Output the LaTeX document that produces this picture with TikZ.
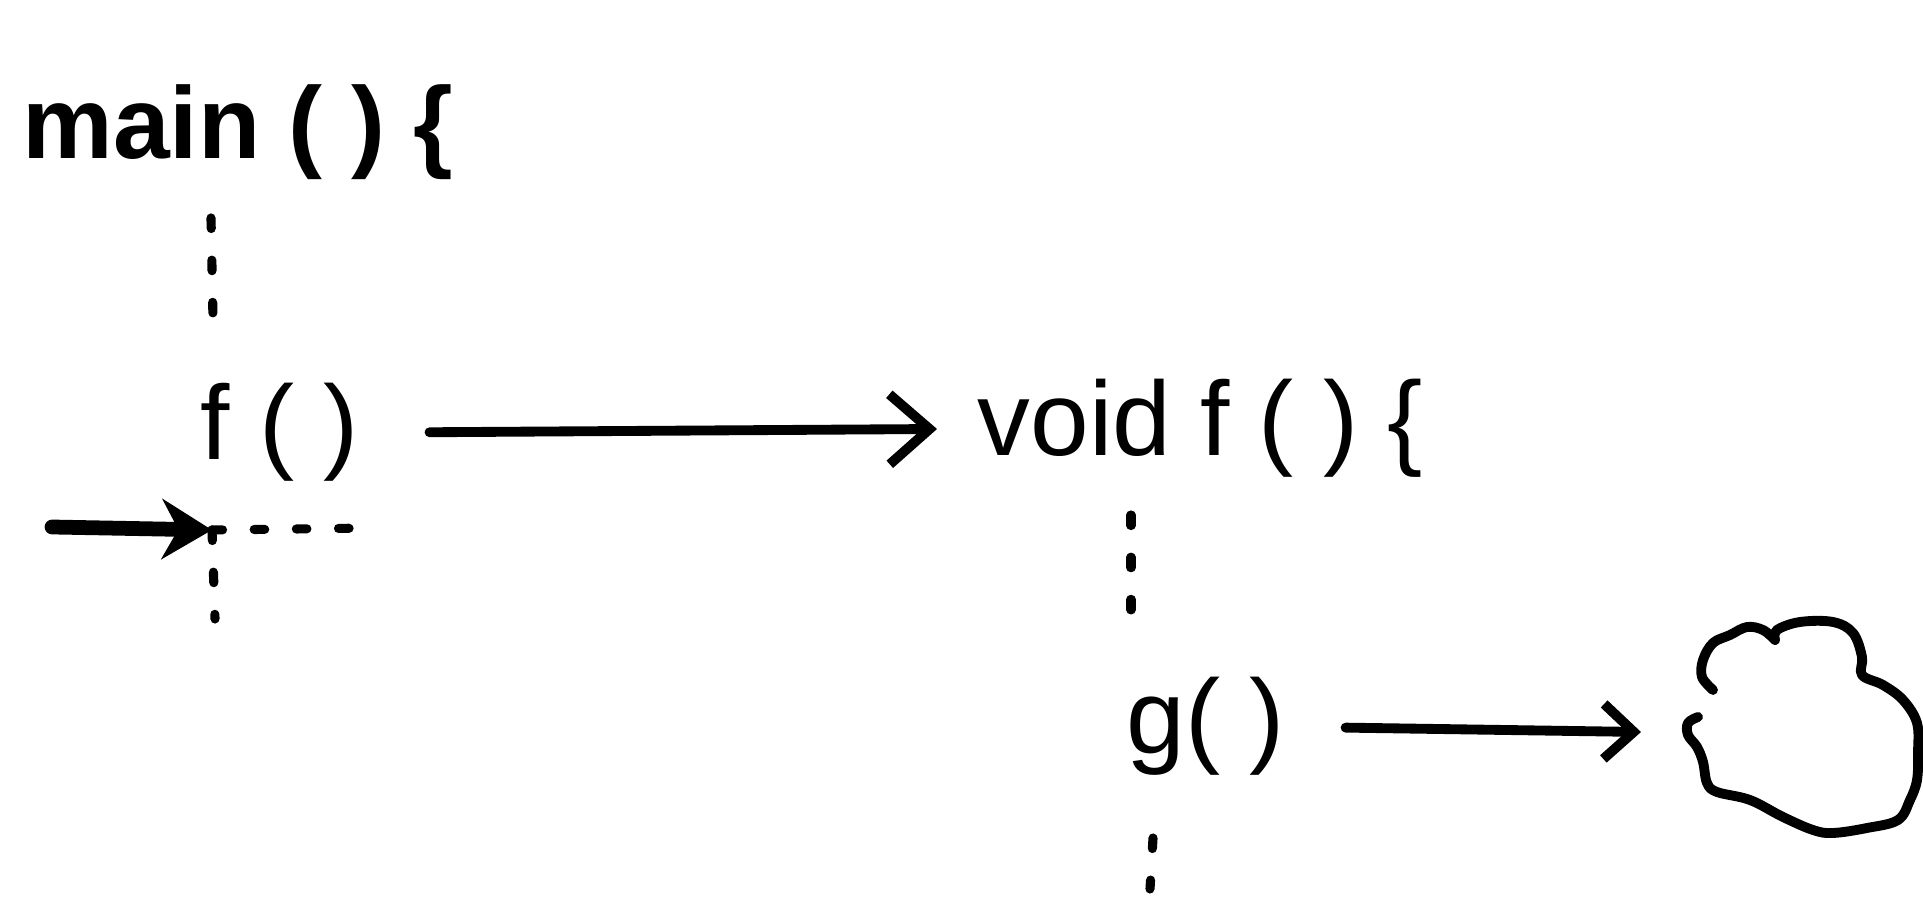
\documentclass[tikz,border=0pt]{standalone}
\usepackage{fontspec}
\setmainfont{Liberation Sans}
\usetikzlibrary{arrows.meta, positioning}

\begin{document}
\begin{tikzpicture}[
    code/.style={inner sep=0pt, anchor=base west, font=\fontsize{30}{36}\selectfont},
    elide/.style={line width=2.6pt, line cap=round, dash pattern=on 3pt off 9pt},
    arrow/.style={line width=2.8pt, line cap=round, -{Straight Barb[length=4mm, width=7mm]}},
    pointer/.style={line width=4.2pt, line cap=round, -{Stealth[length=5mm, width=6mm]}},
    blob/.style={line width=2.8pt, line cap=round, line join=round}
]
\useasboundingbox (0,0) rectangle (19.23,-9.16);

% Code lines
\node[code, font=\fontsize{29}{36}\selectfont\bfseries] (main) at (0.22, -1.59) {main ( ) \{};
\node[code] (fcall) at (2.00, -4.60) {f ( )};
\node[code] (fdef) at (9.77, -4.56) {void f ( ) \{};
\node[code] (gcall) at (11.26, -7.54) {g( )};

% Points
\coordinate (cur) at (2.12, -5.30);
\coordinate (ptr) at (0.52, -5.27);
\coordinate (cloudin) at (16.41, -7.32);

% Elided code
\draw[elide] (2.11, -2.18) -- (2.13, -3.19);
\draw[elide] (cur) -- (3.74, -5.28);
\draw[elide] (cur) -- (2.15, -6.19);
\draw[elide] (11.31, -5.15) -- (11.31, -6.35);
\draw[elide] (11.53, -8.38) -- (11.50, -8.89);

% Calls
\draw[arrow, shorten <=7mm, shorten >=4mm] (fcall.east) -- (fdef.west);
\draw[arrow, shorten <=6mm, -{Straight Barb[length=3mm, width=5.5mm]}] (gcall.east) -- (cloudin);
\draw[pointer] (ptr) -- (cur);

% Unknown
\draw[blob] plot[smooth, tension=0.6] coordinates {
    (17.13,-6.90) (17.02,-6.77) (17.03,-6.60) (17.13,-6.43) (17.30,-6.35)
    (17.47,-6.27) (17.63,-6.30) (17.75,-6.40)};
\draw[blob] plot[smooth, tension=0.6] coordinates {
    (17.75,-6.40) (17.77,-6.30) (18.00,-6.22) (18.33,-6.22) (18.53,-6.33)
    (18.62,-6.57) (18.62,-6.75) (18.83,-6.85) (19.03,-7.00) (19.17,-7.23)
    (19.18,-7.53) (19.17,-7.80) (19.10,-8.00) (18.98,-8.20) (18.67,-8.28)
    (18.33,-8.33) (18.13,-8.30) (17.83,-8.17) (17.50,-8.00) (17.17,-7.92)
    (17.07,-7.83) (17.03,-7.62) (16.97,-7.47) (16.88,-7.35) (16.88,-7.23)
    (16.98,-7.17)};

\end{tikzpicture}
\end{document}
